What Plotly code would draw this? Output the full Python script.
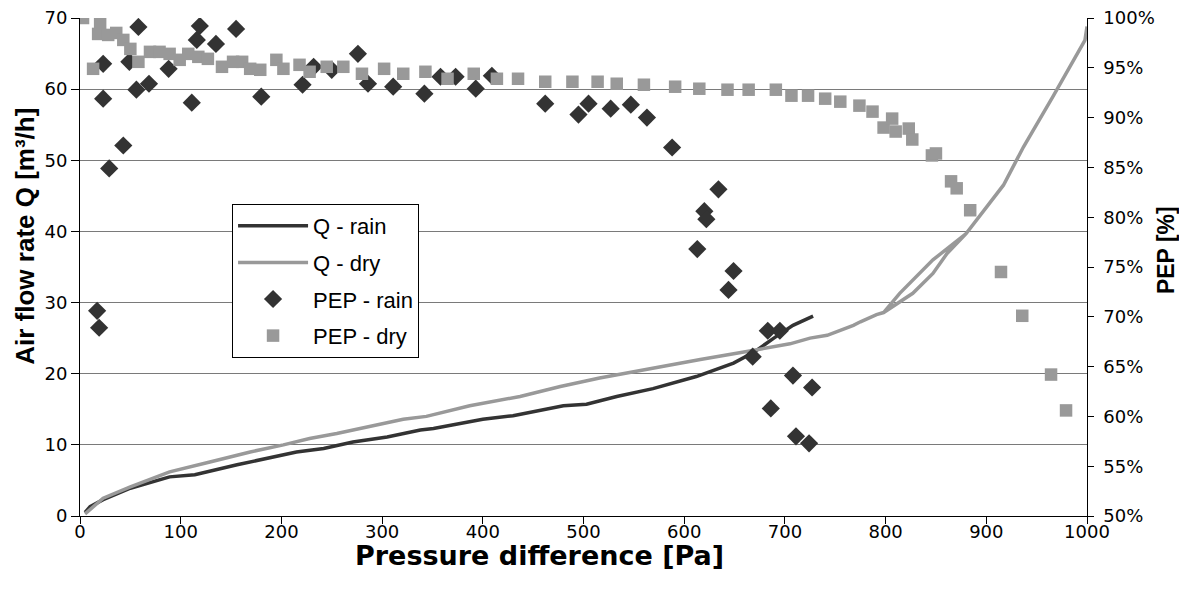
import plotly.graph_objects as go

# ---------------- data ----------------
# Q - rain (air flow rate, m3/h) vs pressure difference (Pa)
q_rain_p = [5, 10, 23, 50, 89, 114, 156, 215, 242, 271, 305, 338, 351, 387, 400, 430,
            480, 503, 533, 569, 612, 649, 669, 689, 708, 728]
q_rain_q = [0.5, 1.3, 2.3, 3.9, 5.5, 5.8, 7.2, 9.0, 9.5, 10.4, 11.1, 12.1, 12.3, 13.3, 13.6, 14.1,
            15.5, 15.7, 16.8, 17.9, 19.6, 21.5, 23.0, 25.0, 26.8, 28.1]

# Q - dry (includes the small loop recorded around 800-880 Pa)
q_dry_p = [5, 23, 50, 89, 129, 169, 202, 228, 255, 288, 321, 344, 387, 437, 477, 516, 550,
           616, 665, 705, 725, 742, 768, 775, 791, 798,
           827, 847, 861, 880,
           847, 814, 798,
           814, 847, 880, 917, 937, 966, 998, 1000]
q_dry_q = [0.3, 2.5, 4.1, 6.2, 7.6, 9.0, 10.0, 10.9, 11.6, 12.6, 13.6, 14.0, 15.5, 16.8, 18.2, 19.4, 20.3,
           22.0, 23.2, 24.2, 25.0, 25.4, 26.8, 27.3, 28.3, 28.6,
           31.3, 34.1, 36.9, 39.7,
           36.0, 31.3, 28.6,
           31.3, 36.0, 39.7, 46.5, 51.9, 58.9, 66.9, 68.8]

# PEP - rain (%)
pep_rain_p = [17, 19, 23, 23, 29, 43, 49, 56, 58, 68.5, 88, 111, 116, 119, 135, 155, 180, 221, 232,
              250, 276, 286, 311, 342, 358, 373, 393, 409, 462, 495, 505, 527, 547, 563, 588,
              613, 620, 622, 634, 644, 649, 668, 683, 686, 695, 708, 711, 724, 727]
pep_rain_v = [70.6, 68.9, 95.4, 91.9, 84.9, 87.2, 95.6, 92.8, 99.1, 93.4, 94.9, 91.5, 97.8, 99.2, 97.4,
              98.9, 92.1, 93.3, 95.1, 94.8, 96.4, 93.4, 93.1, 92.4, 94.1, 94.1, 92.9, 94.2, 91.4,
              90.3, 91.4, 90.9, 91.3, 90.0, 87.0, 76.8, 80.6, 79.8, 82.8, 72.7, 74.6, 66.0, 68.6,
              60.8, 68.6, 64.1, 58.0, 57.3, 62.9]

# PEP - dry (%)
pep_dry_p = [3, 13, 18, 20, 28, 36, 43, 50, 58, 69.5, 79, 89, 99, 107.5, 117.5, 127, 141, 152, 161,
             169, 179, 195, 202, 218, 228, 245, 261.5, 280, 302, 321, 343, 365, 391, 414, 435,
             462, 489, 514, 533, 560, 591, 615, 643, 664, 691, 706.5, 723, 740, 755, 774, 787,
             798, 806.5, 810, 823, 826.5, 846, 850, 865, 870.6, 884, 914.6, 935.7, 964.3, 979.2]
pep_dry_v = [100.0, 94.9, 98.4, 99.5, 98.3, 98.5, 97.8, 96.9, 95.6, 96.6, 96.6, 96.4, 95.8, 96.4, 96.1,
             95.9, 95.1, 95.6, 95.6, 94.9, 94.8, 95.8, 94.9, 95.3, 94.6, 95.1, 95.1, 94.4, 94.9,
             94.4, 94.6, 93.9, 94.4, 93.9, 93.9, 93.6, 93.6, 93.6, 93.4, 93.3, 93.1, 92.9, 92.8,
             92.8, 92.8, 92.2, 92.2, 91.9, 91.6, 91.2, 90.6, 89.0, 89.9, 88.6, 88.9, 87.8, 86.2,
             86.4, 83.6, 82.9, 80.7, 74.5, 70.1, 64.2, 60.6]

x_ticks = list(range(0, 1001, 100))
y_ticks = list(range(0, 71, 10))
y2_ticks = list(range(50, 101, 5))

x_title = "Pressure difference [Pa]"
y_title = "Air flow rate Q [m³/h]"
y2_title = "PEP [%]"

DARK = "#333333"
GRAY = "#999999"
TICKFONT = dict(family="DejaVu Sans", size=18, color="black")

fig = go.Figure()
fig.add_trace(go.Scatter(x=q_rain_p, y=q_rain_q, mode="lines", name="Q - rain", legendgroup="a",
                         line=dict(color=DARK, width=3.5)))
fig.add_trace(go.Scatter(x=q_dry_p, y=q_dry_q, mode="lines", name="Q - dry", legendgroup="b",
                         line=dict(color=GRAY, width=3.5)))
fig.add_trace(go.Scatter(x=pep_rain_p, y=pep_rain_v, mode="markers", name="PEP - rain",
                         yaxis="y2", legendgroup="c",
                         marker=dict(symbol="diamond", size=14, color=DARK, line=dict(width=0))))
fig.add_trace(go.Scatter(x=pep_dry_p, y=pep_dry_v, mode="markers", name="PEP - dry",
                         yaxis="y2", legendgroup="d",
                         marker=dict(symbol="square", size=12.5, color=GRAY, line=dict(width=0))))

# page body has an 8px margin, so margins are offset to put the plot area at x 80-1087, y 18-516
fig.update_layout(
    width=1187, height=594,
    margin=dict(l=72, r=108, t=10, b=86, autoexpand=False),
    paper_bgcolor="white", plot_bgcolor="white",
    font=dict(family="DejaVu Sans", color="black"),
    showlegend=True,
    legend=dict(x=0.151, y=0.6265, xanchor="left", yanchor="top",
                bordercolor="black", borderwidth=1, bgcolor="white",
                font=dict(family="Liberation Sans, Arial", size=22, color="black"),
                itemwidth=70, tracegroupgap=5),
    xaxis=dict(range=[0, 1000], tickvals=x_ticks, showgrid=False, zeroline=False,
               showline=True, linecolor="black", linewidth=1, automargin=False,
               ticks="outside", ticklen=7, tickcolor="black", tickfont=TICKFONT,
               ticklabelstandoff=-8, ticklabeloverflow="allow"),
    yaxis=dict(range=[0, 70], tickvals=y_ticks, showgrid=True, gridcolor="#7a7a7a", gridwidth=1,
               zeroline=False, showline=True, linecolor="black", linewidth=1, automargin=False,
               ticks="outside", ticklen=8, tickcolor="black", tickfont=TICKFONT,
               ticklabeloverflow="allow"),
    yaxis2=dict(range=[50, 100], tickvals=y2_ticks, ticktext=[f"\u00a0{v}%" for v in y2_ticks],
                overlaying="y", side="right", showgrid=False, zeroline=False, automargin=False,
                showline=True, linecolor="black", linewidth=1,
                ticks="outside", ticklen=6, tickcolor="black", tickfont=TICKFONT,
                ticklabeloverflow="allow"),
    annotations=[
        dict(text=f"<b>{x_title}</b>", xref="paper", yref="paper", x=0.456, y=-0.0793,
             xanchor="center", yanchor="middle", showarrow=False,
             font=dict(family="DejaVu Sans", size=27, color="black")),
        dict(text=f"<b>{y_title}</b>", xref="paper", yref="paper", x=-0.054, y=0.562,
             xanchor="center", yanchor="middle", showarrow=False, textangle=-90,
             font=dict(family="Liberation Sans, Arial", size=26, color="black")),
        dict(text=f"<b>{y2_title}</b>", xref="paper", yref="paper", x=1.0785, y=0.534,
             xanchor="center", yanchor="middle", showarrow=False, textangle=-90,
             font=dict(family="Liberation Sans, Arial", size=23, color="black")),
    ],
)

fig.write_html("out.html")
